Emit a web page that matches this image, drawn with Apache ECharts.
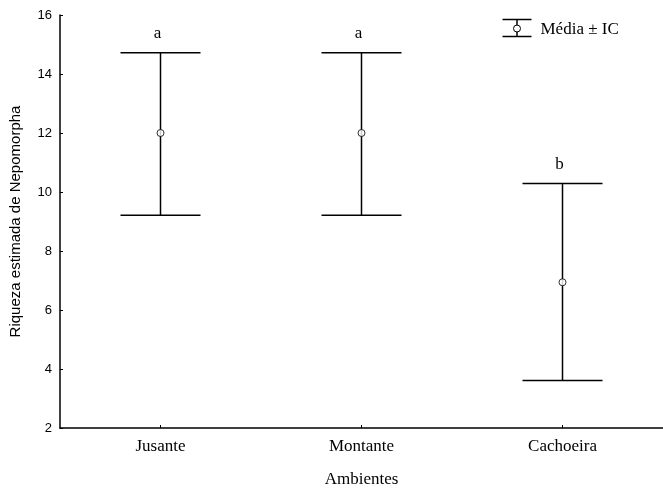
<!DOCTYPE html>
<html>
<head>
<meta charset="utf-8">
<script src="https://cdn.jsdelivr.net/npm/echarts@6/dist/echarts.min.js"></script>
<style>
  html, body { margin: 0; padding: 0; background: #fff; }
  #chart { width: 663px; height: 493px; }
</style>
</head>
<body>
<div id="chart"></div>
<script>
// Mean richness and confidence interval per environment
const categories = ['Jusante', 'Montante', 'Cachoeira'];
const means = [12.0, 12.0, 6.94];
const lowerCI = [9.21, 9.21, 3.61];
const upperCI = [14.72, 14.72, 10.29];
const groupLetters = ['a', 'a', 'b'];
const yTicks = [2, 4, 6, 8, 10, 12, 14, 16];

const serif = '"Liberation Serif", "Times New Roman", serif';
const sans = '"Liberation Sans", Arial, sans-serif';

const chart = echarts.init(document.getElementById('chart'));

const barData = categories.map((c, i) => [i, lowerCI[i], upperCI[i], groupLetters[i]]);

chart.setOption({
  animation: false,
  backgroundColor: '#fff',
  grid: { left: 60, right: 0, top: 15, bottom: 63 },
  xAxis: {
    type: 'category',
    data: categories,
    boundaryGap: true,
    name: 'Ambientes',
    nameLocation: 'middle',
    nameGap: 43,
    nameTextStyle: { fontFamily: serif, fontSize: 17, color: '#000' },
    axisLine: { lineStyle: { color: '#000', width: 1.5 } },
    axisTick: { show: true, inside: true, length: 3, alignWithLabel: true, lineStyle: { color: '#000' } },
    axisLabel: { fontFamily: serif, fontSize: 17, color: '#000', margin: 10 },
    splitLine: { show: false }
  },
  yAxis: {
    type: 'value',
    min: yTicks[0],
    max: yTicks[yTicks.length - 1],
    interval: 2,
    name: 'Riqueza estimada de Nepomorpha',
    nameLocation: 'middle',
    nameGap: 37,
    nameTextStyle: { fontFamily: sans, fontSize: 15, color: '#000' },
    axisLine: { show: true, lineStyle: { color: '#000', width: 1.5 } },
    axisTick: { show: true, inside: true, length: 3, lineStyle: { color: '#000' } },
    axisLabel: { fontFamily: sans, fontSize: 13, color: '#000', margin: 8 },
    splitLine: { show: false }
  },
  series: [
    {
      type: 'custom',
      data: barData,
      encode: { x: 0, y: [1, 2] },
      renderItem: function (params, api) {
        const x = api.coord([api.value(0), 0])[0];
        const yLo = api.coord([api.value(0), api.value(1)])[1];
        const yHi = api.coord([api.value(0), api.value(2)])[1];
        const half = 40;
        const style = { stroke: '#000', lineWidth: 1.5 };
        return {
          type: 'group',
          children: [
            { type: 'line', shape: { x1: x, y1: yLo, x2: x, y2: yHi }, style: style },
            { type: 'line', shape: { x1: x - half, y1: yHi, x2: x + half, y2: yHi }, style: style },
            { type: 'line', shape: { x1: x - half, y1: yLo, x2: x + half, y2: yLo }, style: style },
            {
              type: 'text',
              x: x - 3,
              y: yHi - 19,
              style: {
                text: api.value(3),
                fontFamily: serif,
                fontSize: 17,
                fill: '#000',
                align: 'center',
                verticalAlign: 'middle'
              }
            }
          ]
        };
      },
      z: 2
    },
    {
      type: 'scatter',
      data: means.map((m, i) => [i, m]),
      symbol: 'circle',
      symbolSize: 7,
      itemStyle: { color: '#fff', borderColor: '#000', borderWidth: 1 },
      z: 3
    }
  ],
  graphic: [
    {
      type: 'group',
      left: 500,
      top: 17,
      children: [
        { type: 'line', shape: { x1: 0, y1: 0, x2: 29, y2: 0 }, style: { stroke: '#000', lineWidth: 1.5 } },
        { type: 'line', shape: { x1: 0, y1: 17, x2: 29, y2: 17 }, style: { stroke: '#000', lineWidth: 1.5 } },
        { type: 'line', shape: { x1: 14.5, y1: 0, x2: 14.5, y2: 17 }, style: { stroke: '#000', lineWidth: 1.5 } },
        { type: 'circle', shape: { cx: 14.5, cy: 9, r: 3.5 }, style: { fill: '#fff', stroke: '#000', lineWidth: 1 }, z: 5 },
        {
          type: 'text',
          x: 38,
          y: 10,
          style: { text: 'Média ± IC', fontFamily: serif, fontSize: 17, fill: '#000', verticalAlign: 'middle' }
        }
      ]
    }
  ]
});
</script>
</body>
</html>
